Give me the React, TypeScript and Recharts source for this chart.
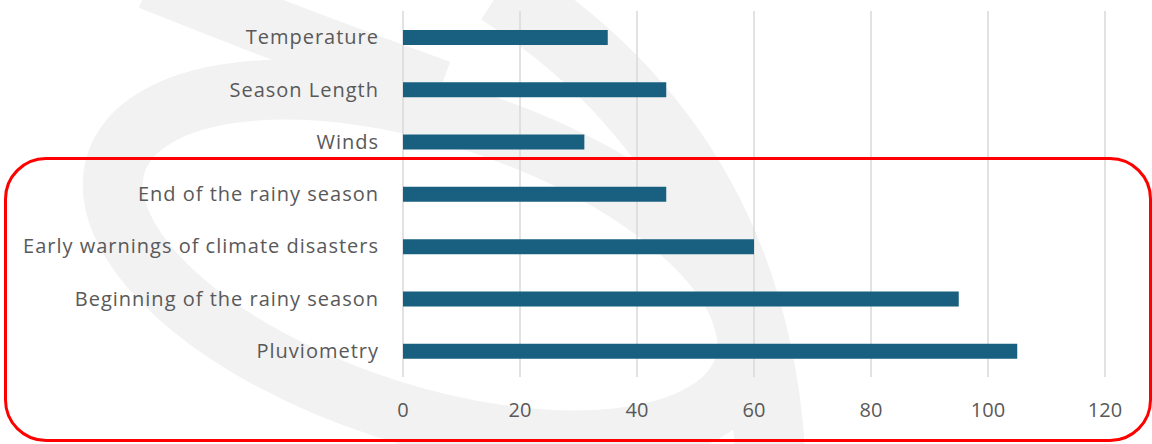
import React from "react";
import { Bar, BarChart, CartesianGrid, XAxis, YAxis } from "recharts";

const categories = [
  "Temperature",
  "Season Length",
  "Winds",
  "End of the rainy season",
  "Early warnings of climate disasters",
  "Beginning of the rainy season",
  "Pluviometry",
];

const counts = [35, 45, 31, 45, 60, 95, 105];

const xTicks = [0, 20, 40, 60, 80, 100, 120];

const data = categories.map((name, i) => ({ name, value: counts[i] }));

const FONT = "'Open Sans', 'Noto Sans', sans-serif";
const INK = "#595959";

// faint logo watermark behind the chart
const Watermark = () => (
  <svg
    width={1152}
    height={444}
    style={{ position: "absolute", left: 0, top: 0 }}
  >
    <g fill="none" stroke="#f2f2f2" strokeLinecap="butt">
      <ellipse
        cx={430}
        cy={265}
        rx={330}
        ry={150}
        strokeWidth={60}
        transform="rotate(18 430 265)"
      />
      <path d="M 500 -10 Q 750 150 770 450" strokeWidth={70} />
      <path d="M 150 -20 Q 300 40 440 90" strokeWidth={60} />
    </g>
  </svg>
);

export default function App() {
  return (
    <div
      style={{
        position: "absolute",
        left: 0,
        top: 0,
        width: 1152,
        height: 444,
        background: "#ffffff",
        overflow: "hidden",
        fontFamily: FONT,
      }}
    >
      <Watermark />
      <div style={{ position: "absolute", left: 0, top: 0 }}>
        <BarChart
          width={1152}
          height={444}
          data={data}
          layout="vertical"
          margin={{ top: 11, right: 47, bottom: 0, left: 0 }}
        >
          <CartesianGrid
            horizontal={false}
            stroke="#d9d9d9"
            strokeWidth={1.5}
          />
          <XAxis
            type="number"
            domain={[0, 120]}
            ticks={xTicks}
            height={67}
            axisLine={false}
            tickLine={false}
            tickSize={0}
            tickMargin={26}
            tick={{ fontSize: 20, fill: INK, fontFamily: FONT }}
          />
          <YAxis
            type="category"
            dataKey="name"
            width={403}
            axisLine={false}
            tickLine={false}
            tickSize={0}
            tickMargin={24}
            interval={0}
            tick={{
              fontSize: 20,
              fill: INK,
              fontFamily: FONT,
              letterSpacing: 1,
            }}
          />
          <Bar
            dataKey="value"
            fill="#185f80"
            barSize={15}
            isAnimationActive={false}
          />
        </BarChart>
      </div>
      <div
        style={{
          position: "absolute",
          left: 4,
          top: 157,
          width: 1148,
          height: 285,
          boxSizing: "border-box",
          border: "3px solid #ff0000",
          borderRadius: 42,
          pointerEvents: "none",
        }}
      />
    </div>
  );
}
